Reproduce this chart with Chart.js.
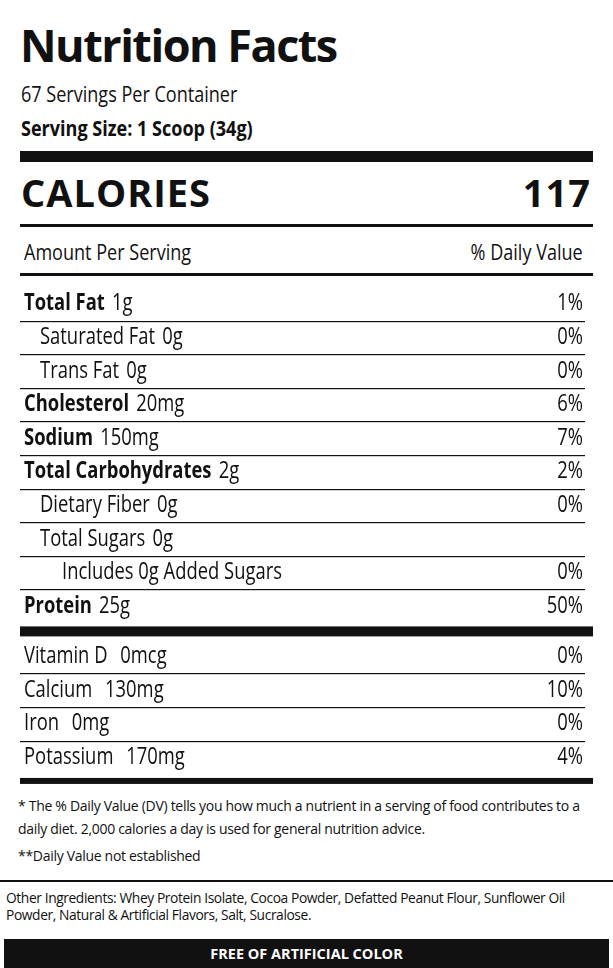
<!DOCTYPE html>
<html>
<head>
<meta charset="utf-8">
<script src="https://cdn.jsdelivr.net/npm/chart.js@4/dist/chart.umd.min.js"></script>
<style>
  body { margin:0; width:613px; height:968px; background:#fff; position:relative; overflow:hidden;
         font-family:"Open Sans",sans-serif; color:#111; }
  .t { position:absolute; white-space:nowrap; }
  .nl { transform:scaleX(0.82); transform-origin:left center; }
  .nr { transform:scaleX(0.82); transform-origin:right center; }
  .bar { position:absolute; background:#111; }
  #wrap { position:absolute; left:0; top:287px; width:613px; height:504px; }
</style>
</head>
<body>
<div class="t" style="left:20px;top:14px;font:bold 45px 'Open Sans';letter-spacing:-1.5px">Nutrition Facts</div>
<div class="t nl" style="left:21px;top:78px;font-size:22px">67 Servings Per Container</div>
<div class="t nl" style="left:21px;top:112px;font-size:22px;font-weight:bold">Serving Size: 1 Scoop (34g)</div>
<div class="bar" style="left:20px;top:151px;width:573px;height:11px"></div>
<div class="t" style="left:21px;top:166px;font:bold 38px 'Open Sans';letter-spacing:1px">CALORIES</div>
<div class="t" style="right:22px;top:166px;font:bold 38px 'Open Sans';letter-spacing:1px">117</div>
<div class="bar" style="left:20px;top:224px;width:573px;height:3px"></div>
<div class="t nl" style="left:24px;top:236px;font-size:22px">Amount Per Serving</div>
<div class="t nr" style="right:30px;top:236px;font-size:22px">% Daily Value</div>
<div class="bar" style="left:20px;top:273px;width:573px;height:3px"></div>
<div id="wrap"><canvas id="rows"></canvas></div>
<div class="t" style="left:18px;top:796px;font:14px 'Open Sans';letter-spacing:-0.3px">* The % Daily Value (DV) tells you how much a nutrient in a serving of food contributes to a</div>
<div class="t" style="left:18px;top:819px;font:14px 'Open Sans';letter-spacing:-0.3px">daily diet. 2,000 calories a day is used for general nutrition advice.</div>
<div class="t" style="left:18px;top:846px;font:14px 'Open Sans';letter-spacing:-0.3px">**Daily Value not established</div>
<div class="bar" style="left:0;top:880px;width:613px;height:2px"></div>
<div class="t" style="left:6px;top:889px;font:13.8px 'Open Sans';letter-spacing:-0.4px;line-height:17px">Other Ingredients: Whey Protein Isolate, Cocoa Powder, Defatted Peanut Flour, Sunflower Oil<br>Powder, Natural &amp; Artificial Flavors, Salt, Sucralose.</div>
<div class="bar" style="left:4px;top:939px;width:605px;height:29px;color:#fff;text-align:center;font:bold 14.5px 'Open Sans';line-height:29px">FREE OF ARTIFICIAL COLOR</div>
<script>
// nutrient rows of the label
const names   = ['Total Fat','Saturated Fat','Trans Fat','Cholesterol','Sodium','Total Carbohydrates','Dietary Fiber','Total Sugars','Includes 0g Added Sugars','Protein','Vitamin D','Calcium','Iron','Potassium'];
const amounts = ['1g','0g','0g','20mg','150mg','2g','0g','0g','','25g','0mcg','130mg','0mg','170mg'];
const dailyPct = [1,0,0,6,7,2,0,null,0,50,0,10,0,4];
const level   = [0,1,1,0,0,0,1,1,2,0,0,0,0,0];
const boldRow = [true,false,false,true,true,true,false,false,false,true,false,false,false,false];

// vitamins block sits half a row lower, below the thick rule
const rowPos = names.map((n, i) => i + (i >= 10 ? 0.5 : 0));
const SQ = 0.8; // fake a condensed face

const labelPlugin = {
  id: 'labelRows',
  afterDraw(chart) {
    const ctx = chart.ctx, y = chart.scales.y;
    const L = 20, R = 593;
    ctx.save();
    ctx.fillStyle = '#111';
    rowPos.forEach((p, i) => {
      if (i === 9 || i === rowPos.length - 1) return;
      ctx.fillRect(L, Math.round(y.getPixelForValue(p + 0.5)), R - L - 8, 1.2);
    });
    ctx.fillRect(L, y.getPixelForValue(9.75) - 5, R - L, 10);
    ctx.fillRect(L, y.getPixelForValue(14.2) - 3, R - L, 6);
    ctx.textBaseline = 'middle';
    names.forEach((n, i) => {
      const py = y.getPixelForValue(rowPos[i]);
      const x = 24 + [0, 16, 38][level[i]];
      ctx.save();
      ctx.translate(x, py);
      ctx.scale(SQ, 1);
      ctx.font = (boldRow[i] ? 'bold ' : '') + '23px "Open Sans"';
      ctx.textAlign = 'left';
      ctx.fillText(n, 0, 0);
      const w = ctx.measureText(n).width;
      ctx.font = '23px "Open Sans"';
      if (amounts[i]) ctx.fillText(amounts[i], w + (i >= 10 ? 16 : 9), 0);
      ctx.restore();
      if (dailyPct[i] !== null) {
        ctx.save();
        ctx.translate(583, py);
        ctx.scale(SQ, 1);
        ctx.font = '23px "Open Sans"';
        ctx.textAlign = 'right';
        ctx.fillText(dailyPct[i] + '%', 0, 0);
        ctx.restore();
      }
    });
    ctx.restore();
  }
};

new Chart(document.getElementById('rows'), {
  type: 'scatter',
  data: { datasets: [{ data: rowPos.map(p => ({ x: 0, y: p })), pointRadius: 0 }] },
  options: {
    responsive: true, maintainAspectRatio: false, animation: false,
    layout: { padding: 0 },
    plugins: { legend: { display: false }, tooltip: { enabled: false } },
    scales: {
      x: { display: false, min: 0, max: 1 },
      y: { display: false, reverse: true, min: -0.5, max: 14.5 }
    }
  },
  plugins: [labelPlugin]
});
</script>
</body>
</html>
